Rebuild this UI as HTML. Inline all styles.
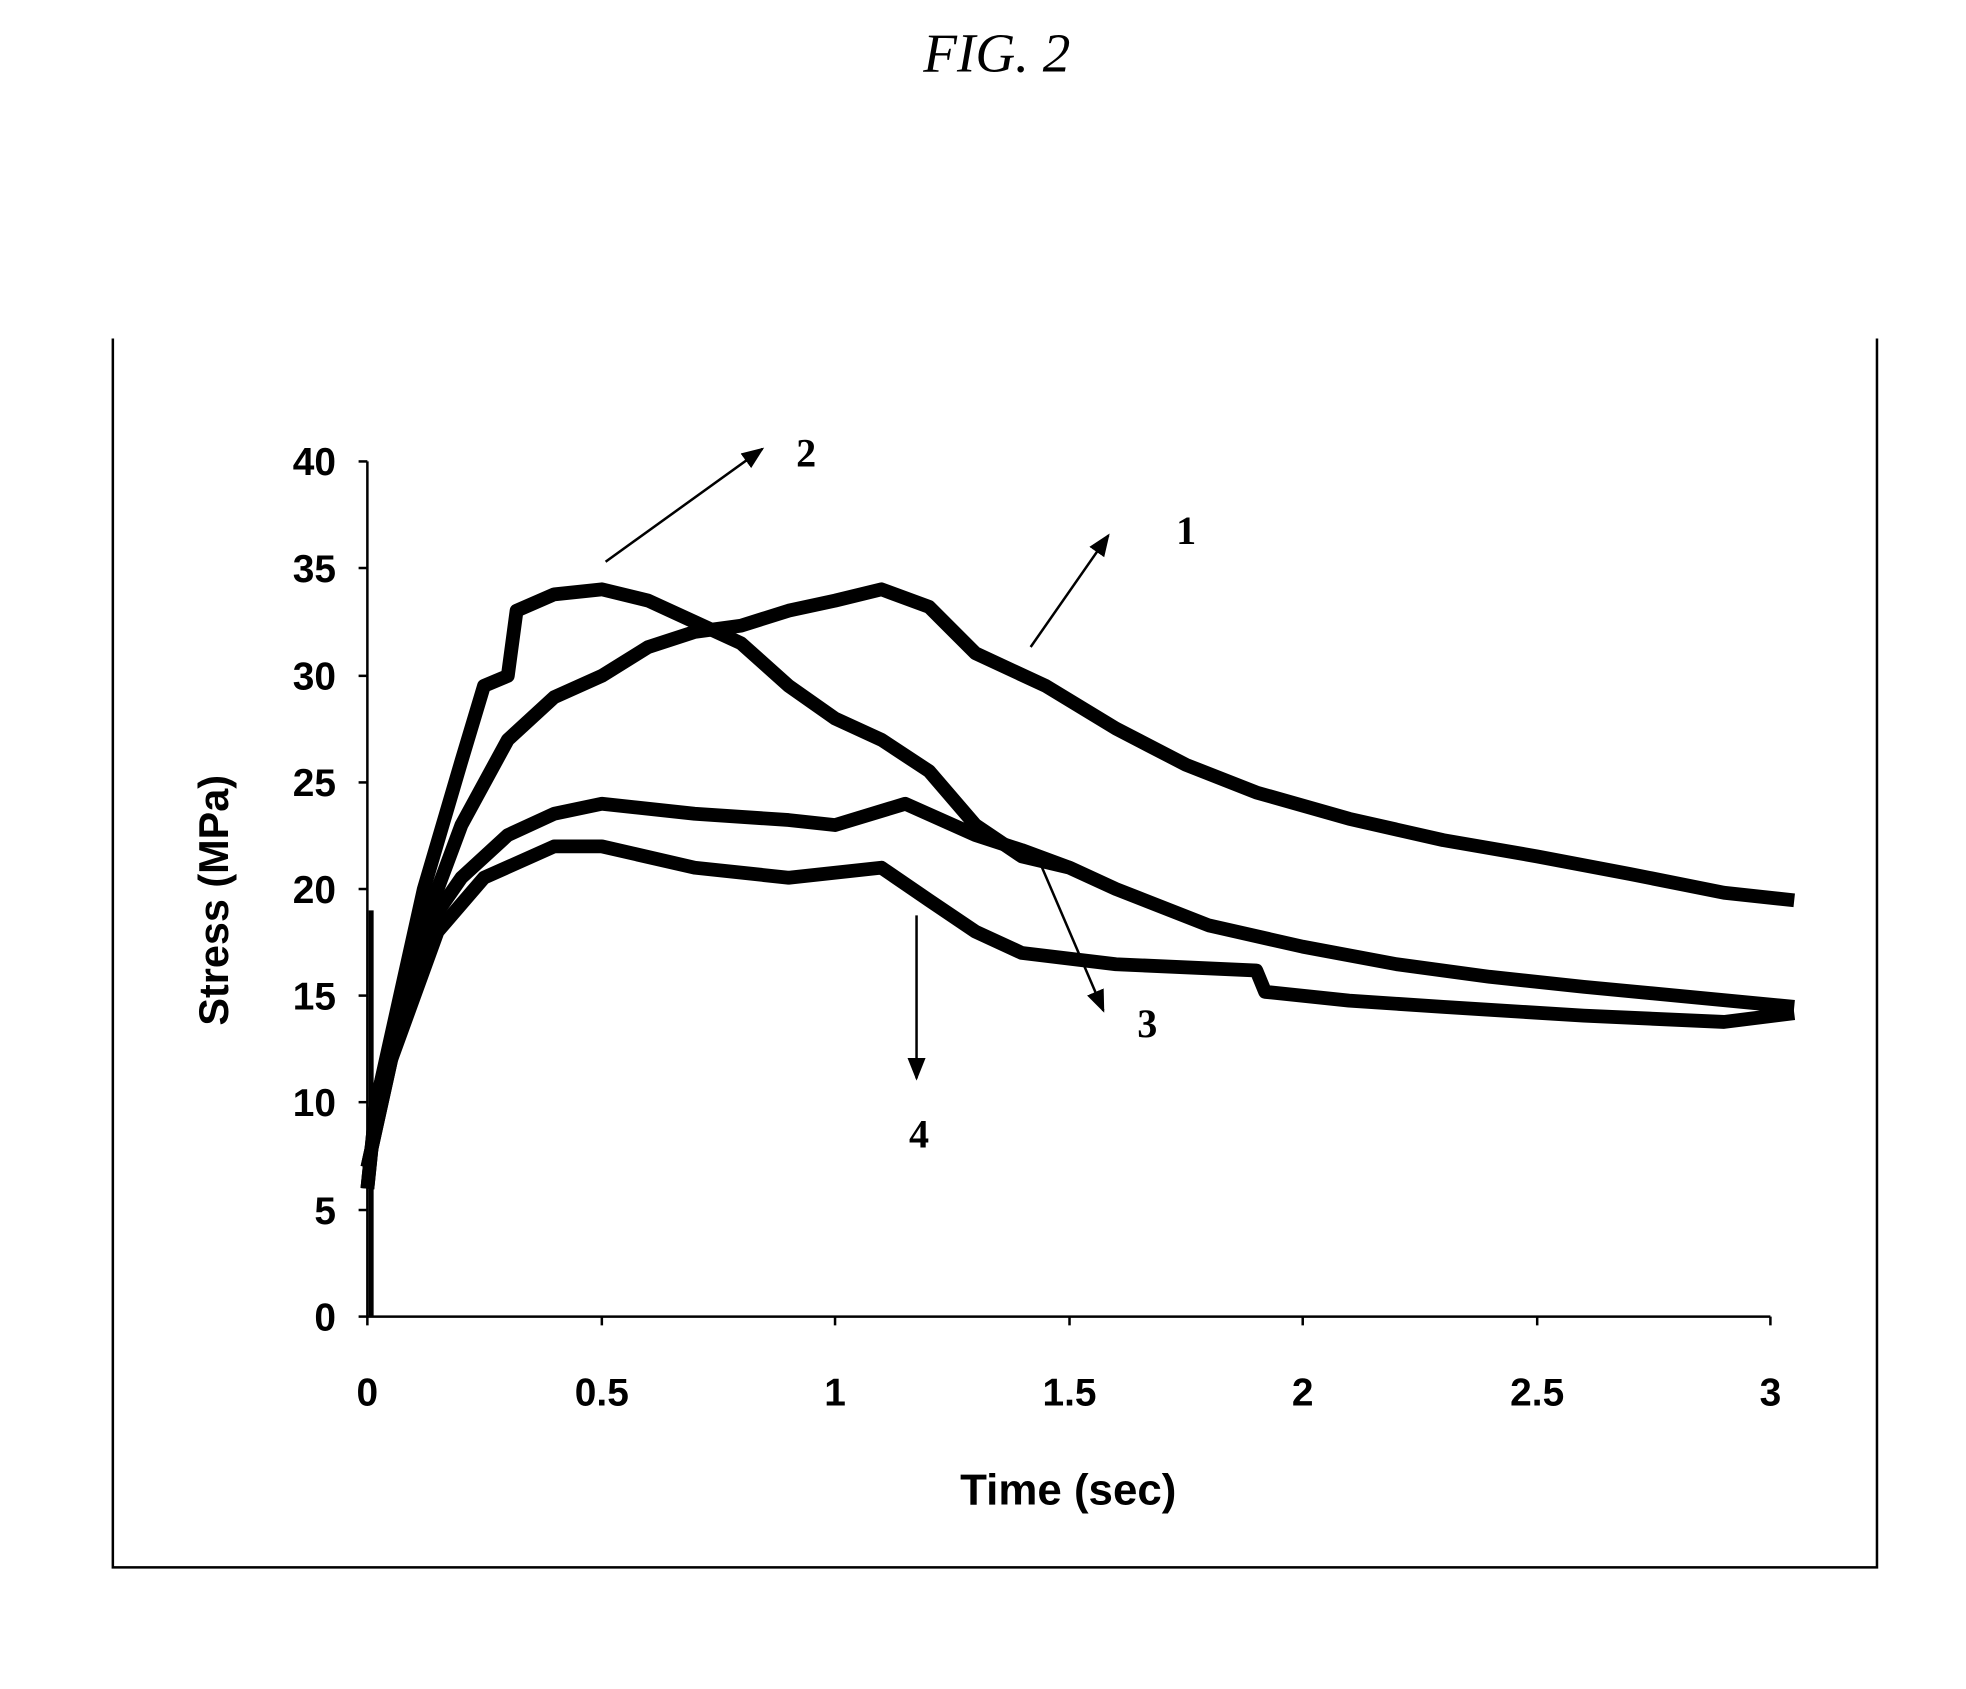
<!DOCTYPE html>
<html><head><meta charset="utf-8"><style>html,body{margin:0;padding:0;background:#fff}svg{display:block}</style></head>
<body>
<svg width="1966" height="1689" viewBox="0 0 1568 1347" preserveAspectRatio="none" xmlns="http://www.w3.org/2000/svg">
<defs>
<marker id="a2" viewBox="0 0 10 10" markerWidth="18" markerHeight="18" refX="9" refY="5" orient="auto" markerUnits="userSpaceOnUse"><path d="M0,1 L10,5 L0,9 z" fill="#000"/></marker></defs>
<text x="795" y="57" font-family="Liberation Serif,serif" font-style="italic" font-size="44" text-anchor="middle">FIG. 2</text>
<g stroke="#000" stroke-width="2" fill="none">
<path d="M90,270 V1250 H1497 V270"/>
<path d="M293,368 V1050 H1412"/>
</g>
<g stroke="#000" stroke-width="2">
<line x1="286" x2="293" y1="1050" y2="1050"/><line x1="286" x2="293" y1="965" y2="965"/><line x1="286" x2="293" y1="879" y2="879"/><line x1="286" x2="293" y1="794" y2="794"/><line x1="286" x2="293" y1="709" y2="709"/><line x1="286" x2="293" y1="624" y2="624"/><line x1="286" x2="293" y1="539" y2="539"/><line x1="286" x2="293" y1="453" y2="453"/><line x1="286" x2="293" y1="368" y2="368"/>
<line x1="293" x2="293" y1="1050" y2="1057"/><line x1="480" x2="480" y1="1050" y2="1057"/><line x1="666" x2="666" y1="1050" y2="1057"/><line x1="853" x2="853" y1="1050" y2="1057"/><line x1="1039" x2="1039" y1="1050" y2="1057"/><line x1="1226" x2="1226" y1="1050" y2="1057"/><line x1="1412" x2="1412" y1="1050" y2="1057"/>
</g>
<g font-family="Liberation Sans,sans-serif" font-weight="bold" font-size="31" fill="#000" text-anchor="end">
<text x="268" y="1061">0</text><text x="268" y="976">5</text><text x="268" y="890">10</text><text x="268" y="805">15</text><text x="268" y="720">20</text><text x="268" y="635">25</text><text x="268" y="550">30</text><text x="268" y="464">35</text><text x="268" y="379">40</text>
</g>
<g font-family="Liberation Sans,sans-serif" font-weight="bold" font-size="31" fill="#000" text-anchor="middle">
<text x="293" y="1121">0</text><text x="480" y="1121">0.5</text><text x="666" y="1121">1</text><text x="853" y="1121">1.5</text><text x="1039" y="1121">2</text><text x="1226" y="1121">2.5</text><text x="1412" y="1121">3</text>
</g>
<text transform="translate(182,718) rotate(-90)" font-family="Liberation Sans,sans-serif" font-weight="bold" font-size="33" text-anchor="middle">Stress (MPa)</text>
<text x="852" y="1200" font-family="Liberation Sans,sans-serif" font-weight="bold" font-size="35" text-anchor="middle">Time (sec)</text>
<g fill="none" stroke="#000" stroke-width="11" stroke-linejoin="round">
<path d="M293,948 L300,880 L312,828 L330,760 L349,709 L368,658 L405,590 L442,556 L480,539 L517,516 L554,504 L591,499 L629,487 L666,479 L703,470 L741,484 L778,521 L834,547 L890,581 L946,610 L1002,632 L1076,653 L1151,670 L1226,683 L1300,697 L1375,712 L1431,718"/>
<path d="M293,948 L300,880 L338,709 L368,607 L386,547 L405,539 L412,487 L442,474 L480,470 L517,479 L554,496 L591,513 L629,547 L666,573 L703,590 L741,615 L778,658 L815,683 L853,692 L890,709 L964,738 L1039,755 L1114,769 L1188,779 L1263,787 L1337,794 L1431,803"/>
<path d="M293,931 L312,845 L338,743 L368,700 L405,666 L442,649 L480,641 L554,649 L629,654 L666,658 L722,641 L778,666 L815,678 L853,692"/>
<path d="M293,931 L312,845 L349,743 L386,700 L442,675 L480,675 L554,692 L629,700 L703,692 L741,718 L778,743 L815,760 L890,769 L1002,774 L1009,791 L1076,798 L1151,803 L1263,810 L1375,815 L1431,808"/>
</g>
<line x1="296" y1="1050" x2="296" y2="726" stroke="#000" stroke-width="4"/>
<g stroke="#000" stroke-width="2" marker-end="url(#a2)">
<line x1="483" y1="448" x2="608" y2="358"/>
<line x1="822" y1="516" x2="884" y2="427"/>
<line x1="826" y1="680" x2="880" y2="806"/>
<line x1="731" y1="730" x2="731" y2="860"/>
</g>
<g font-family="Liberation Serif,serif" font-weight="bold" font-size="32" text-anchor="middle">
<text x="643" y="372">2</text><text x="946" y="434">1</text><text x="915" y="827">3</text><text x="733" y="915">4</text>
</g>
</svg>
</body></html>
